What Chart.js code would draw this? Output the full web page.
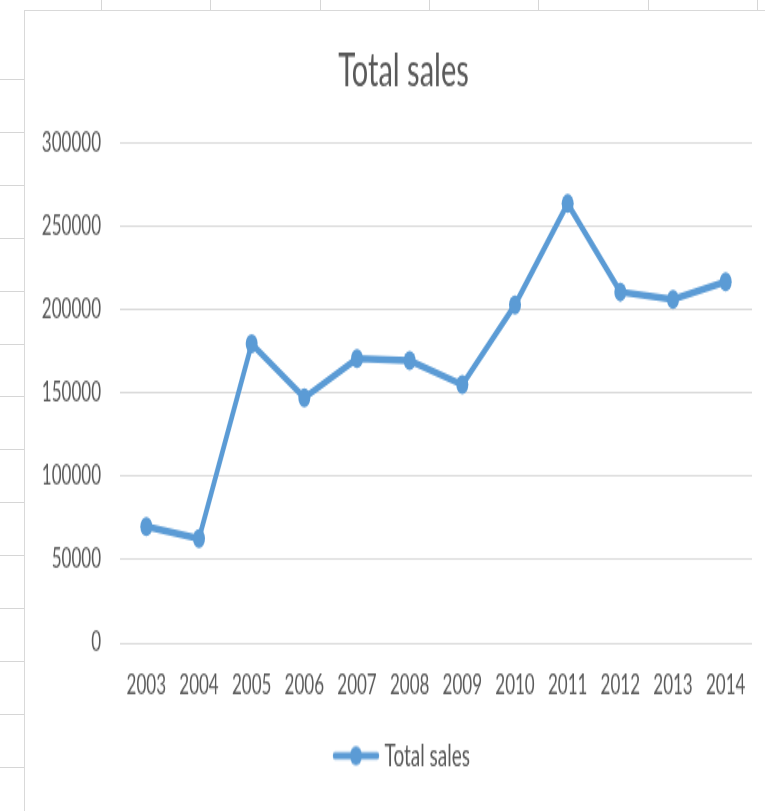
<!DOCTYPE html>
<html>
<head>
<meta charset="utf-8">
<title>Total sales</title>
<script src="https://cdn.jsdelivr.net/npm/chart.js@4.4.1/dist/chart.umd.min.js"></script>
<style>
    html, body {
        margin: 0;
        padding: 0;
        width: 765px;
        height: 811px;
        overflow: hidden;
        background: #ffffff;
    }
    .cell-line {
        position: absolute;
        background: #d6d6d6;
    }
    #chart-box {
        position: absolute;
        left: 24px;
        top: 10px;
        width: 780px;
        height: 820px;
        background: #ffffff;
        border-left: 1px solid #d9d9d9;
        border-top: 1px solid #d9d9d9;
    }
    /* chart is drawn at normal size, then stretched vertically like the sheet view */
    #stretch {
        width: 740px;
        height: 500px;
        transform: scaleY(1.6);
        transform-origin: 0 0;
    }
</style>
</head>
<body>
<div id="sheet"></div>
<div id="chart-box">
    <div id="stretch">
        <canvas id="sales-chart" width="740" height="500"></canvas>
    </div>
</div>

<script>
const years = ['2003', '2004', '2005', '2006', '2007', '2008', '2009', '2010', '2011', '2012', '2013', '2014'];
const totalSales = [70000, 62700, 179600, 147300, 170700, 169500, 155100, 203000, 263900, 210800, 206400, 216900];
const yTickValues = [0, 50000, 100000, 150000, 200000, 250000, 300000];

const lineBlue = '#5b9bd5';
const textGrey = '#595959';

// spreadsheet cell borders peeking out around the chart
const sheet = document.getElementById('sheet');
for (let x = 101; x < 765; x += 109.3) {
    const d = document.createElement('div');
    d.className = 'cell-line';
    d.style.cssText = `left:${Math.round(x)}px;top:0;width:1px;height:12px;`;
    sheet.appendChild(d);
}
for (let y = 79; y < 811; y += 52.9) {
    const d = document.createElement('div');
    d.className = 'cell-line';
    d.style.cssText = `left:0;top:${Math.round(y)}px;width:24px;height:1px;`;
    sheet.appendChild(d);
}

// legend symbol: short line with a dot in the middle
const legendIcon = document.createElement('canvas');
legendIcon.width = 48;
legendIcon.height = 14;
(function () {
    const c = legendIcon.getContext('2d');
    c.strokeStyle = lineBlue;
    c.fillStyle = lineBlue;
    c.lineWidth = 4.5;
    c.lineCap = 'round';
    c.beginPath();
    c.moveTo(3, 7);
    c.lineTo(45, 7);
    c.stroke();
    c.beginPath();
    c.arc(24, 7, 6, 0, Math.PI * 2);
    c.fill();
})();

// y labels are wider than the axis box; let them use the space to its left
const widenYLabels = {
    id: 'widenYLabels',
    afterLayout(chart) {
        chart.scales.y.left = 0;
    }
};

const ctx = document.getElementById('sales-chart').getContext('2d');
const chart = new Chart(ctx, {
    type: 'line',
    data: {
        labels: years,
        datasets: [{
            label: 'Total sales',
            data: totalSales,
            borderColor: lineBlue,
            backgroundColor: lineBlue,
            borderWidth: 4.5,
            pointRadius: 6,
            pointBorderWidth: 0,
            pointBackgroundColor: lineBlue,
            tension: 0,
            fill: false
        }]
    },
    plugins: [widenYLabels],
    options: {
        responsive: false,
        animation: false,
        layout: {
            padding: { left: 30, right: 13, top: 20, bottom: 15 }
        },
        plugins: {
            title: {
                display: true,
                text: 'Total sales',
                color: textGrey,
                font: { family: 'Lato', size: 29, weight: 'normal' },
                padding: { top: 0, bottom: 28 }
            },
            legend: {
                position: 'bottom',
                labels: {
                    usePointStyle: true,
                    pointStyleWidth: 38,
                    color: textGrey,
                    font: { family: 'Lato', size: 19 },
                    padding: 10,
                    generateLabels: chart => chart.data.datasets.map((ds, i) => ({
                        text: ds.label,
                        pointStyle: legendIcon,
                        fillStyle: lineBlue,
                        strokeStyle: lineBlue,
                        lineWidth: 0,
                        fontColor: textGrey,
                        hidden: false,
                        datasetIndex: i
                    }))
                }
            },
            tooltip: { enabled: false }
        },
        scales: {
            x: {
                offset: true,
                grid: { display: false, drawTicks: false },
                border: { display: false },
                ticks: {
                    color: textGrey,
                    font: { family: 'Lato', size: 17 },
                    padding: 16,
                    maxRotation: 0,
                    autoSkip: false
                },
                afterFit: scale => { scale.height = 51; }
            },
            y: {
                min: 0,
                max: 300000,
                grid: { color: '#d9d9d9', lineWidth: 1, drawTicks: false },
                border: { display: false },
                ticks: {
                    color: textGrey,
                    font: { family: 'Lato', size: 17 },
                    padding: 19,
                    callback: value => String(value)
                },
                afterBuildTicks: scale => {
                    scale.ticks = yTickValues.map(v => ({ value: v }));
                },
                afterFit: scale => { scale.width = 65; }
            }
        }
    }
});
</script>
</body>
</html>
